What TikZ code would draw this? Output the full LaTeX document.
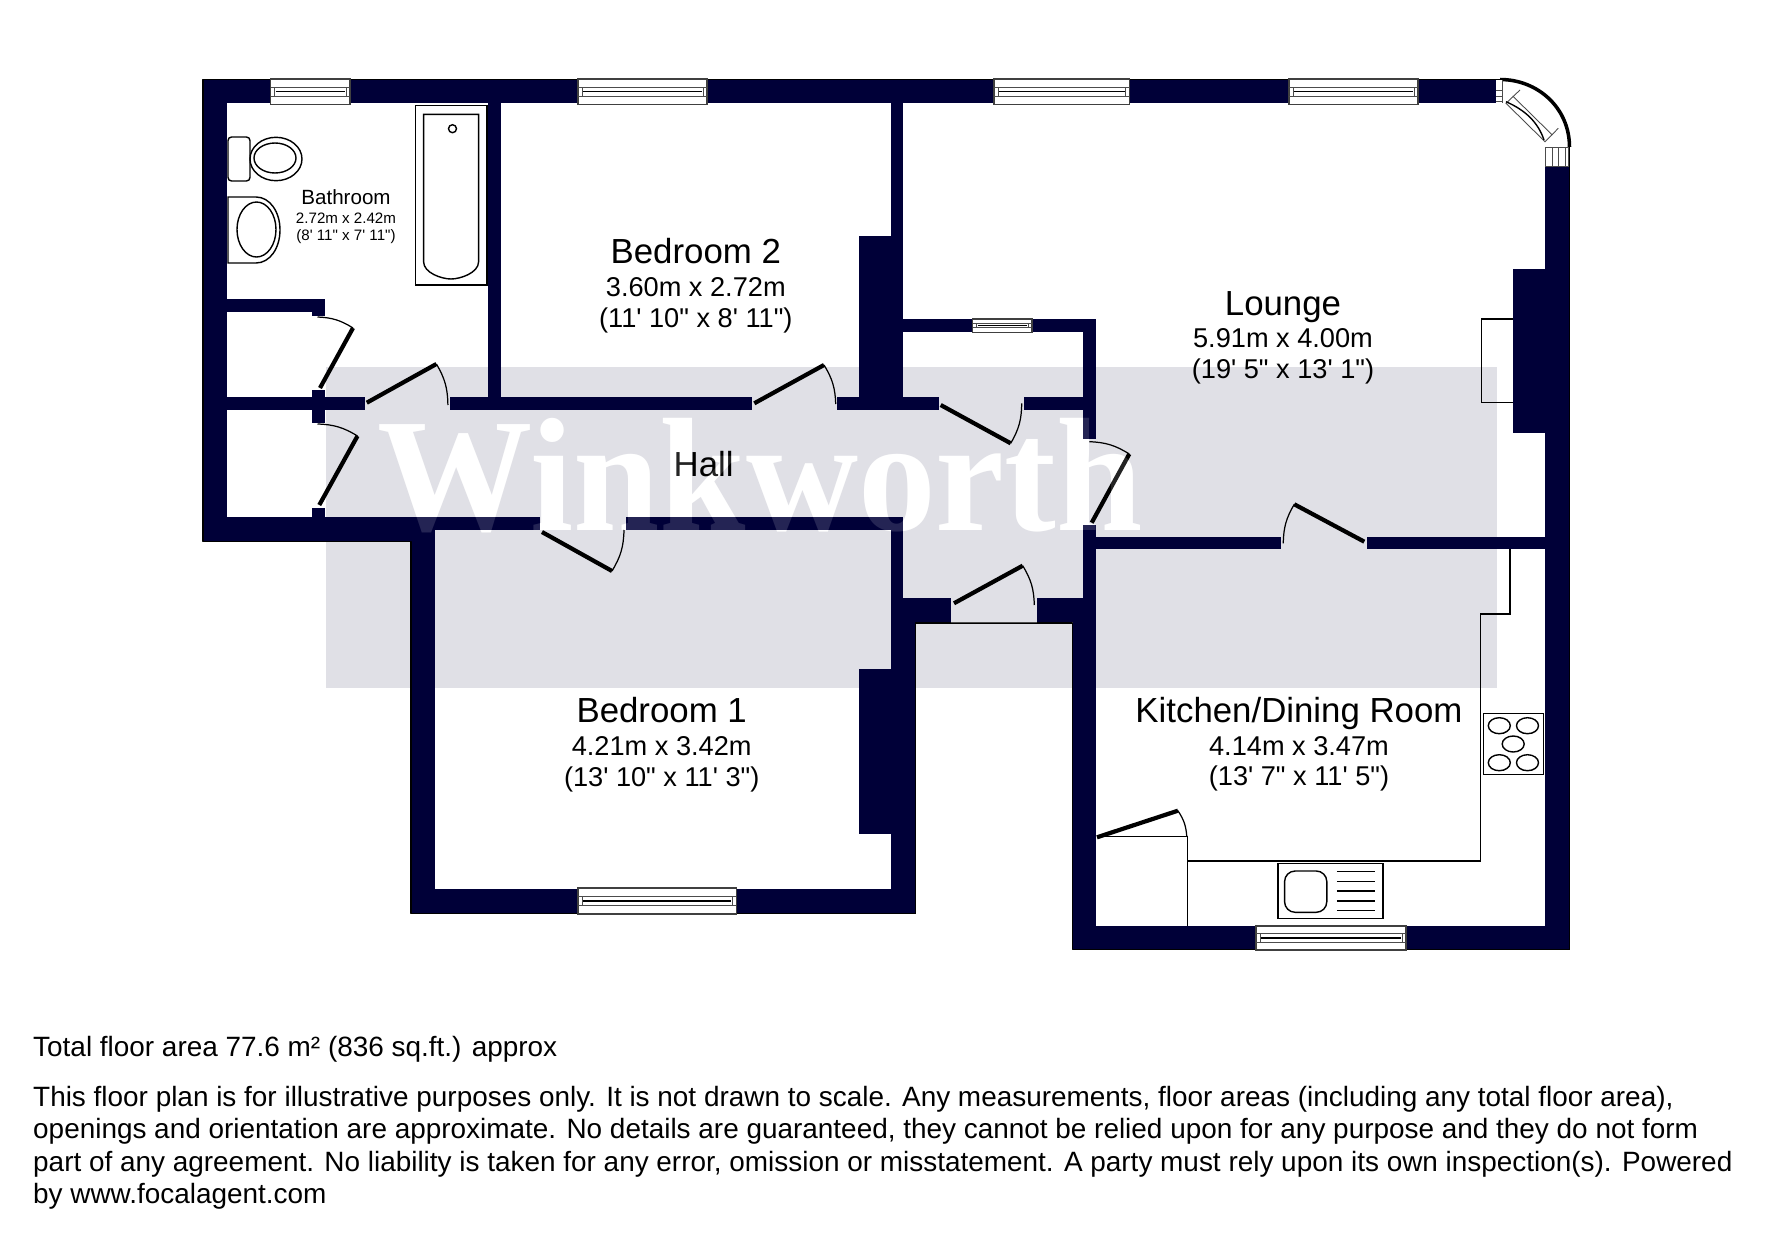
\documentclass[tikz,border=0pt]{standalone}
\usepackage{fontspec}
\newfontfamily\planfont{Liberation Sans}
\newfontfamily\markfont{Liberation Serif}
\definecolor{wallblue}{HTML}{000038}
\definecolor{markgrey}{HTML}{E0E0E6}
\tikzset{
  wall/.style={fill=wallblue,draw=none},
  fitting/.style={draw=black,line width=0.4pt},
  thinline/.style={draw=black!70,line width=0.25pt},
  doorleaf/.style={draw=black,line width=1.2pt},
  swing/.style={draw=black,line width=0.35pt},
  roomname/.style={anchor=base,inner sep=0pt,font=\planfont\fontsize{9.9}{10}\selectfont},
  roomsize/.style={anchor=base,inner sep=0pt,font=\planfont\fontsize{7.73}{9}\selectfont},
  bathname/.style={anchor=base,inner sep=0pt,font=\planfont\fontsize{5.85}{6}\selectfont},
  bathsize/.style={anchor=base,inner sep=0pt,font=\planfont\fontsize{4.3}{5}\selectfont},
  notes/.style={anchor=base west,inner sep=0pt,font=\planfont\fontsize{7.94}{9}\selectfont},
  brand/.style={anchor=base west,inner sep=0pt,white,xscale=0.96,transform shape,font=\markfont\bfseries\fontsize{46}{46}\selectfont}
}
\begin{document}
\begin{tikzpicture}[x=0.01cm,y=-0.01cm]
  \useasboundingbox (0,0) rectangle (1771,1239);
  % watermark behind the plan
  \fill[markgrey] (326.4,367.3) rectangle (1497.3,688.3);
  \node[brand] (brandback) at (377,530) {Winkworth};
  % walls
  \fill[wall] (203,79.5) rectangle (1496,103);
  \fill[wall] (203,79.5) rectangle (227,541.5);
  \fill[wall] (203,517) rectangle (411,541.5);
  \fill[wall] (411,517) rectangle (435,913.5);
  \fill[wall] (435,517) rectangle (540,530);
  \fill[wall] (625.7,517) rectangle (903.3,530);
  \fill[wall] (891,517) rectangle (903.3,623);
  \fill[wall] (891,599) rectangle (915.5,913.5);
  \fill[wall] (411,889) rectangle (915.5,913.5);
  \fill[wall] (859,669) rectangle (891,834);
  \fill[wall] (903,598.3) rectangle (950.7,622.3);
  \fill[wall] (1036.7,598.3) rectangle (1096,622.3);
  \fill[wall] (1072.5,598.3) rectangle (1096,949.5);
  \fill[wall] (1072.5,925.7) rectangle (1569.5,949.5);
  \fill[wall] (1545.3,166.7) rectangle (1569.5,949.5);
  \fill[wall] (1096,536.7) rectangle (1281,549.3);
  \fill[wall] (1366.7,536.7) rectangle (1545.3,549.3);
  \fill[wall] (1083,525) rectangle (1096,610);
  \fill[wall] (1083,319) rectangle (1096,439.3);
  \fill[wall] (903.3,319) rectangle (1096,332.3);
  \fill[wall] (227,397.3) rectangle (364.6,410);
  \fill[wall] (449.6,397.3) rectangle (752.3,410);
  \fill[wall] (837.3,397.3) rectangle (938.7,410);
  \fill[wall] (1024,397.3) rectangle (1083,410);
  \fill[wall] (488,103) rectangle (501,397.3);
  \fill[wall] (891,103) rectangle (903.3,397.3);
  \fill[wall] (859,236) rectangle (891,397.3);
  \fill[wall] (227,299) rectangle (324.6,312);
  \fill[wall] (312,299) rectangle (324.6,316);
  \fill[wall] (312,390) rectangle (325.4,423);
  \fill[wall] (312,508) rectangle (325.4,517);
  \fill[wall] (1512.7,268.7) rectangle (1545.3,433.3);
  % outer edge
  \draw[black,line width=0.4pt,line join=round] (1500,79.5)--(203,79.5)--(203,541.5)--(411,541.5)--(411,913.5)--(915.5,913.5)--(915.5,623)--(1072.5,623)--(1072.5,949.5)--(1569.5,949.5)--(1569.5,147);
  \draw[black,line width=1pt] (1500,79.5) .. controls (1538,79.5) and (1569.5,108) .. (1569.5,147);
  \draw[thinline] (950.7,622.5)--(1036.7,622.5);
  % windows
  \foreach \xa/\xb/\ya/\yb in {270.7/350/79/104.3,578/707/79/104.3,994/1129.5/79/104.3,1289/1418/79/104.3,578/736.4/888/914,1256/1406/926/950,972.7/1032/319/332.3}{
    \fill[white] (\xa,\ya) rectangle (\xb,\yb);
    \draw[fitting,draw=black!75] (\xa,\ya) rectangle (\xb,\yb);
    \draw[thinline] (\xa,{\ya+0.33*(\yb-\ya)})--(\xb,{\ya+0.33*(\yb-\ya)});
    \draw[thinline] (\xa,{\ya+0.67*(\yb-\ya)})--(\xb,{\ya+0.67*(\yb-\ya)});
    \draw[thinline] ({\xa+4},{\ya+0.33*(\yb-\ya)})--({\xa+4},{\ya+0.67*(\yb-\ya)});
    \draw[thinline] ({\xb-4},{\ya+0.33*(\yb-\ya)})--({\xb-4},{\ya+0.67*(\yb-\ya)});
    \draw[fitting] ({\xa+5},{\ya+0.5*(\yb-\ya)})--({\xb-5},{\ya+0.5*(\yb-\ya)});
  }
  % bay window in the corner
  \fill[white] (1495.7,80.3) rectangle (1502,103);
  \draw[thinline] (1502,80.3)--(1502,103);
  \draw[thinline] (1495.7,90)--(1502,90) (1495.7,96)--(1502,96) (1495.7,101.7)--(1502,101.7);
  \draw[thinline] (1545.3,147.3)--(1568,147.3)--(1568,166.7)--(1545.3,166.7)--cycle;
  \draw[thinline] (1552.3,147.3)--(1552.3,166.7) (1558,147.3)--(1558,166.7) (1565,147.3)--(1565,166.7);
  \draw[thinline] (1520,90)--(1506,103.3)--(1545,141.7)--(1558.3,128.3);
  \draw[thinline] (1512.7,96)--(1552.3,135);
  \draw[fitting] (1506,101.7) .. controls (1525,110) and (1538,122) .. (1544,140);
  % doors
  \draw[doorleaf] (366.8,402.7)--(436.4,364);  \draw[swing] (436.4,364) to[bend left=15] (447.9,405);
  \draw[doorleaf] (320,388)--(353,328);        \draw[swing] (353,328) to[bend right=15] (317.5,317);
  \draw[doorleaf] (319.3,505)--(357.5,436);    \draw[swing] (357.5,436) to[bend right=15] (317.5,424);
  \draw[doorleaf] (542,532)--(612,571);        \draw[swing] (612,571) to[bend right=15] (624,530);
  \draw[doorleaf] (754.3,403.3)--(824,365);    \draw[swing] (824,365) to[bend left=15] (835.7,404);
  \draw[doorleaf] (940.7,405)--(1010.7,443.3); \draw[swing] (1010.7,443.3) to[bend right=15] (1021.7,403.3);
  \draw[doorleaf] (1091.7,522.7)--(1129.3,454);\draw[swing] (1129.3,454) to[bend right=15] (1089.3,441.7);
  \draw[doorleaf] (954,603.3)--(1022.7,565.7); \draw[swing] (1022.7,565.7) to[bend left=15] (1034.3,605);
  \draw[doorleaf] (1364.3,541.7)--(1294.3,504.3); \draw[swing] (1294.3,504.3) to[bend right=15] (1283.3,543.3);
  \draw[doorleaf] (1097,837.3)--(1177.9,810.7);\draw[swing] (1177.9,810.7) to[bend left=15] (1186.8,836.7);
  % bathroom fittings
  \draw[fitting] (415.7,105.7) rectangle (487,285);
  \draw[fitting] (423.6,114.3)--(478.6,114.3)--(478.6,261.7) .. controls (478.6,273) and (460,279) .. (451,279) .. controls (442,279) and (423.6,273) .. (423.6,261.7)--cycle;
  \draw[fitting] (452.5,128.7) circle (0.04cm);
  \draw[fitting,rounded corners=1pt] (228,137) rectangle (250,181);
  \draw[fitting] (276,159) ellipse [x radius=26,y radius=21.7];
  \draw[fitting] (275,158) ellipse [x radius=21,y radius=15];
  \draw[fitting] (228,197)--(256,197) .. controls (270,197) and (280,212) .. (280,230) .. controls (280,248) and (270,263) .. (256,263)--(228,263)--cycle;
  \draw[fitting] (256.5,229.5) ellipse [x radius=19.5,y radius=27.5];
  % kitchen fittings
  \draw[fitting] (1510,549.3)--(1510,614)--(1480.4,614)--(1480.4,861)--(1187.5,861);
  \draw[fitting] (1097,836.7)--(1187.5,836.7)--(1187.5,925.7);
  \draw[fitting] (1483.6,713.3) rectangle (1543.2,774.3);
  \foreach \cx/\cy in {1499.3/725.7,1527.5/725.7,1513.2/744,1499.3/762.7,1527.5/762.7}{
    \draw[fitting] (\cx,\cy) ellipse [x radius=11,y radius=8];
  }
  \draw[fitting] (1277.9,863.3) rectangle (1382.9,918.3);
  \draw[fitting,rounded corners=3pt] (1284.6,871) rectangle (1326.8,912.3);
  \foreach \ly in {871.7,881.3,891,901,910.7}{
    \draw[fitting] (1336.8,\ly)--(1375.4,\ly);
  }
  % hearth
  \draw[fitting] (1512.7,319)--(1481.7,319)--(1481.7,402.3)--(1512.7,402.3);
  % room labels
  \node[bathname] (bathroom) at (346,204) {Bathroom};
  \node[bathsize] (bathmetric) at (346,223.3) {2.72m x 2.42m};
  \node[bathsize] (bathimperial) at (346,240) {(8' 11" x 7' 11")};
  \node[roomname] (bedtwo) at (695.8,263.2) {Bedroom 2};
  \node[roomsize] (bedtwometric) at (695.8,296) {3.60m x 2.72m};
  \node[roomsize] (bedtwoimperial) at (695.8,327.2) {(11' 10" x 8' 11")};
  \node[roomname] (lounge) at (1283,315) {Lounge};
  \node[roomsize] (loungemetric) at (1283,347.3) {5.91m x 4.00m};
  \node[roomsize] (loungeimperial) at (1283,378.8) {(19' 5" x 13' 1")};
  \node[roomname] (hall) at (703.7,476) {Hall};
  \node[roomname] (bedone) at (661.7,722.2) {Bedroom 1};
  \node[roomsize] (bedonemetric) at (661.7,755) {4.21m x 3.42m};
  \node[roomsize] (bedoneimperial) at (661.7,786) {(13' 10" x 11' 3")};
  \node[roomname] (kitchen) at (1299,722.2) {Kitchen/Dining Room};
  \node[roomsize] (kitchenmetric) at (1299,755) {4.14m x 3.47m};
  \node[roomsize] (kitchenimperial) at (1299,785.7) {(13' 7" x 11' 5")};
  % watermark again, faint, over the walls
  \node[brand,opacity=0.14] (brandfront) at (377,530) {Winkworth};
  % notes
  \node[notes] (areanote) at (32.5,1056.7) {Total floor area 77.6 m² (836 sq.ft.) approx};
  \node[notes] (noteone) at (32.5,1106.7) {This floor plan is for illustrative purposes only. It is not drawn to scale. Any measurements, floor areas (including any total floor area),};
  \node[notes] (notetwo) at (32.5,1138.5) {openings and orientation are approximate. No details are guaranteed, they cannot be relied upon for any purpose and they do not form};
  \node[notes] (notethree) at (32.5,1171) {part of any agreement. No liability is taken for any error, omission or misstatement. A party must rely upon its own inspection(s). Powered};
  \node[notes] (notefour) at (32.5,1203) {by www.focalagent.com};
\end{tikzpicture}
\end{document}
